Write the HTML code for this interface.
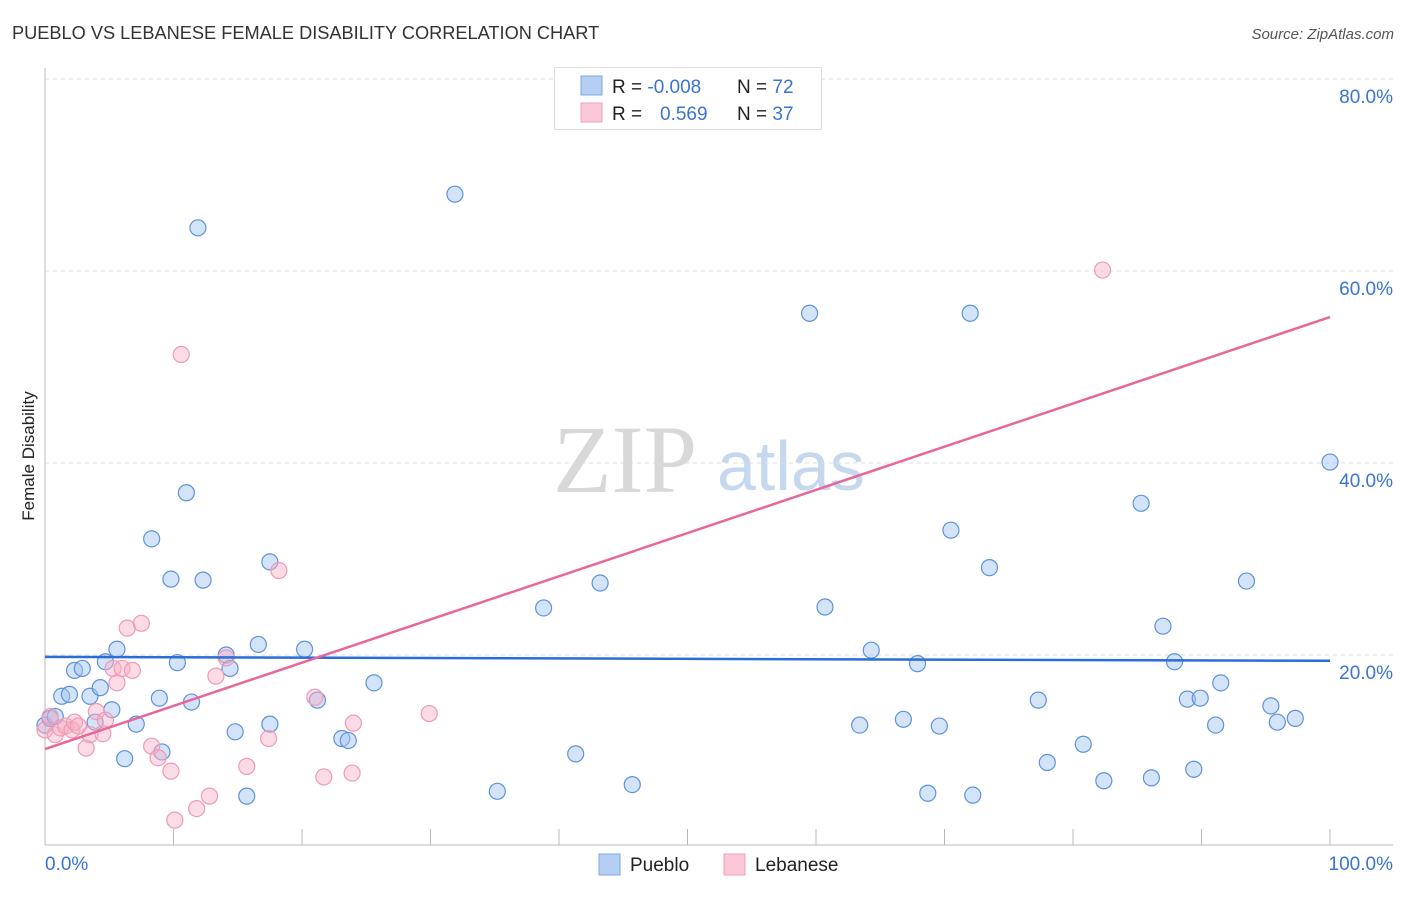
<!DOCTYPE html>
<html><head><meta charset="utf-8"><style>
body{margin:0;background:#fff;font-family:"Liberation Sans",sans-serif;}
</style></head><body>
<svg id="chart" width="1406" height="892" xmlns="http://www.w3.org/2000/svg" font-family="Liberation Sans, sans-serif">
<text x="12" y="39" font-size="18.2" fill="#333">PUEBLO VS LEBANESE FEMALE DISABILITY CORRELATION CHART</text>
<text x="1394" y="39" font-size="15" fill="#555" text-anchor="end" font-style="italic">Source: ZipAtlas.com</text>
<text transform="translate(34,456) rotate(-90)" font-size="17" fill="#222" text-anchor="middle">Female Disability</text>
<g>
<text x="553" y="492" font-size="96" fill="#d8d8d8" style="font-family:'Liberation Serif',serif">ZIP</text>
<text x="717" y="490" font-size="70" fill="#c5d8f0">atlas</text>
</g>
<g id="grid"></g><g id="axes"></g><g id="pts"></g><g id="lines"></g>
<g>
<rect x="554.5" y="67.5" width="267" height="62" fill="#fff" stroke="#ddd"/>
<rect x="581" y="76" width="21" height="19" fill="#b5cff3" stroke="#7fa6e0"/>
<rect x="581" y="103" width="21" height="19" fill="#fbc8d7" stroke="#f0a0bb"/>
<text x="612" y="93" font-size="19" fill="#222">R = <tspan fill="#3a74d0">-0.008</tspan></text>
<text x="737" y="93" font-size="19" fill="#222">N = <tspan fill="#3a74d0">72</tspan></text>
<text x="612" y="120" font-size="19" fill="#222">R = </text>
<text x="660" y="120" font-size="19" fill="#3a74d0">0.569</text>
<text x="737" y="120" font-size="19" fill="#222">N = <tspan fill="#3a74d0">37</tspan></text>
</g>
<g>
<rect x="599" y="854" width="21" height="21" fill="#b5cff3" stroke="#7fa6e0"/>
<text x="630" y="871" font-size="19" fill="#222">Pueblo</text>
<rect x="724" y="854" width="21" height="21" fill="#fbc8d7" stroke="#f0a0bb"/>
<text x="755" y="871" font-size="19" fill="#222">Lebanese</text>
</g>
</svg>
<script>
const puebloX=[0,0.4,0.8,1.3,1.9,2.3,2.9,3.5,3.9,4.3,4.7,5.2,5.6,6.2,7.1,8.3,8.9,9.1,9.8,10.3,11.0,11.4,11.9,12.3,14.1,14.4,14.8,15.7,16.6,17.5,17.5,20.2,21.2,23.1,23.6,25.6,31.9,35.2,38.8,41.3,43.2,45.7,59.5,60.7,63.4,64.3,66.8,67.9,68.7,69.6,70.5,72.0,72.2,73.5,77.3,78.0,80.8,82.4,85.3,86.1,87.0,87.9,88.9,89.4,89.9,91.1,91.5,93.5,95.4,95.9,97.3,100];
const puebloY=[12.7,13.4,13.6,15.7,15.9,18.4,18.6,15.7,13.0,16.6,19.3,14.3,20.6,9.2,12.8,32.1,15.5,9.9,27.9,19.2,36.9,15.1,64.5,27.8,20.0,18.6,12.0,5.3,21.1,12.8,29.7,20.6,15.3,11.3,11.1,17.1,68.0,5.8,24.9,9.7,27.5,6.5,55.6,25.0,12.7,20.5,13.3,19.1,5.6,12.6,33.0,55.6,5.4,29.1,15.3,8.8,10.7,6.9,35.8,7.2,23.0,19.3,15.4,8.1,15.5,12.7,17.1,27.7,14.7,13.0,13.4,40.1];
const lebX=[0,0.4,0.8,1.2,1.6,2.1,2.3,2.6,3.2,3.5,4.0,4.5,4.7,5.3,5.6,6.0,6.4,6.8,7.5,8.3,8.8,9.8,10.1,10.6,11.8,12.8,13.3,14.1,15.7,17.4,18.2,21.0,21.7,23.9,24.0,29.9,82.3];
const lebY=[12.2,13.6,11.7,12.4,12.6,12.2,13.0,12.6,10.3,11.7,14.1,11.8,13.2,18.6,17.1,18.6,22.8,18.4,23.3,10.5,9.3,7.9,2.8,51.3,4.0,5.3,17.8,19.7,8.4,11.3,28.8,15.6,7.3,7.7,12.9,13.9,60.1];
const puebloTrend=[19.8,19.4];
const lebTrend=[10.2,55.2];
const yTicks=[20,40,60,80];
const yTickLabels=["20.0%","40.0%","60.0%","80.0%"];
const xTicks=[0,10,20,30,40,50,60,70,80,90,100];
const NS="http://www.w3.org/2000/svg";
const sx=v=>45+v*12.85, sy=v=>847-v*9.6;
function mk(p,t,a){const e=document.createElementNS(NS,t);for(const k in a)e.setAttribute(k,a[k]);p.appendChild(e);return e;}
const grid=document.getElementById('grid'),axes=document.getElementById('axes'),pts=document.getElementById('pts'),lines=document.getElementById('lines');
yTicks.forEach((v,i)=>{
 const g=mk(grid,'line',{x1:45,x2:1393,y1:sy(v),y2:sy(v),stroke:'#ddd','stroke-dasharray':'4,4'});
 
 
 const t=mk(axes,'text',{x:1393,y:sy(v)+24,'font-size':19,fill:'#3a74d0','text-anchor':'end'});t.textContent=yTickLabels[i];
 
 
});
const ax=mk(axes,'line',{x1:45,x2:1393,y1:845,y2:845,stroke:'#bbb'});


const ay=mk(axes,'line',{x1:45,x2:45,y1:68,y2:845,stroke:'#bbb'});


xTicks.forEach(v=>{const l=mk(axes,'line',{x1:sx(v),x2:sx(v),y1:829,y2:845,stroke:'#bbb'});
 
 });
const xl0=mk(axes,'text',{x:45,y:870,'font-size':19,fill:'#3a74d0'});xl0.textContent='0.0%';


const xl1=mk(axes,'text',{x:1393,y:870,'font-size':19,fill:'#3a74d0','text-anchor':'end'});xl1.textContent='100.0%';


puebloX.forEach((x,i)=>{const c=mk(pts,'circle',{cx:sx(x),cy:sy(puebloY[i]),r:8,fill:'rgba(160,196,240,0.45)',stroke:'#5e92dc','stroke-width':1.2});
 
 });
lebX.forEach((x,i)=>{const c=mk(pts,'circle',{cx:sx(x),cy:sy(lebY[i]),r:8,fill:'rgba(247,175,198,0.45)',stroke:'#f09ab5','stroke-width':1.2});
 
 });
const t1=mk(lines,'line',{x1:sx(0),x2:sx(100),y1:sy(puebloTrend[0]),y2:sy(puebloTrend[1]),stroke:'#2a6dd6','stroke-width':2.5});


const t2=mk(lines,'line',{x1:sx(0),x2:sx(100),y1:sy(lebTrend[0]),y2:sy(lebTrend[1]),stroke:'#e8679a','stroke-width':2.5});


</script>
</body></html>
